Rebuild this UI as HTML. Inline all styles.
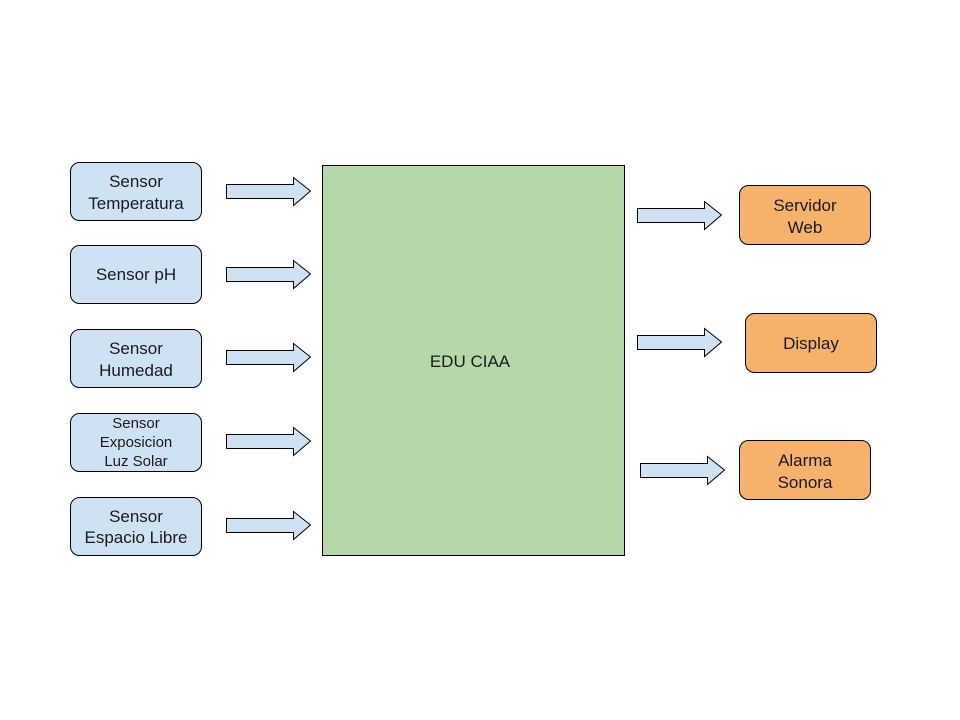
<!DOCTYPE html>
<html><head><meta charset="utf-8"><style>body{margin:0;background:#fff}svg{display:block}text{font-family:"Liberation Sans",sans-serif;fill:#1a1a1a;text-anchor:middle}</style></head>
<body>
<svg width="960" height="720" viewBox="0 0 960 720" xmlns="http://www.w3.org/2000/svg" font-family="Liberation Sans, sans-serif">
<rect x="0" y="0" width="960" height="720" fill="#fff"/>
<g fill="#cfe2f3" stroke="#000" stroke-width="1">
<rect x="70.5" y="162.5" width="131" height="58" rx="9"/>
<rect x="70.5" y="245.5" width="131" height="58" rx="9"/>
<rect x="70.5" y="329.5" width="131" height="58" rx="9"/>
<rect x="70.5" y="413.5" width="131" height="58" rx="9"/>
<rect x="70.5" y="497.5" width="131" height="58" rx="9"/>
</g>
<rect x="322.5" y="165.5" width="302" height="390" fill="#b6d7a8" stroke="#000" stroke-width="1"/>
<g fill="#f6b26b" stroke="#000" stroke-width="1">
<rect x="739.5" y="185.5" width="131" height="59" rx="9"/>
<rect x="745.5" y="313.5" width="131" height="59" rx="9"/>
<rect x="739.5" y="440.5" width="131" height="59" rx="9"/>
</g>
<g fill="#cfe2f3" stroke="#000" stroke-width="1">
<path d="M226.5 184.5H293.5V177.5L310.5 191L293.5 205.5V198.5H226.5Z"/>
<path d="M226.5 267.5H293.5V260.5L310.5 274L293.5 288.5V281.5H226.5Z"/>
<path d="M226.5 350.5H293.5V343.5L310.5 357L293.5 371.5V364.5H226.5Z"/>
<path d="M226.5 434.5H293.5V427.5L310.5 441L293.5 455.5V448.5H226.5Z"/>
<path d="M226.5 518.5H293.5V511.5L310.5 525L293.5 539.5V532.5H226.5Z"/>
<path d="M637.5 208.5H704.5V201.5L721.5 215L704.5 229.5V222.5H637.5Z"/>
<path d="M637.5 335.5H704.5V328.5L721.5 342L704.5 356.5V349.5H637.5Z"/>
<path d="M640.5 463.5H707.5V456.5L724.5 470L707.5 484.5V477.5H640.5Z"/>
</g>
<g font-size="17" font-family="Liberation Sans, sans-serif">
<text x="136" y="187">Sensor</text><text x="136" y="209">Temperatura</text>
<text x="136" y="280">Sensor pH</text>
<text x="136" y="354">Sensor</text><text x="136" y="376">Humedad</text>
<text x="136" y="522">Sensor</text><text x="136" y="543">Espacio Libre</text>
<text x="470" y="367">EDU CIAA</text>
<text x="805" y="211">Servidor</text><text x="805" y="233">Web</text>
<text x="811" y="349">Display</text>
<text x="805" y="466">Alarma</text><text x="805" y="488">Sonora</text>
</g>
<g font-size="15" font-family="Liberation Sans, sans-serif">
<text x="136" y="428">Sensor</text><text x="136" y="447">Exposicion</text><text x="136" y="466">Luz Solar</text>
</g>
</svg>
</body></html>
